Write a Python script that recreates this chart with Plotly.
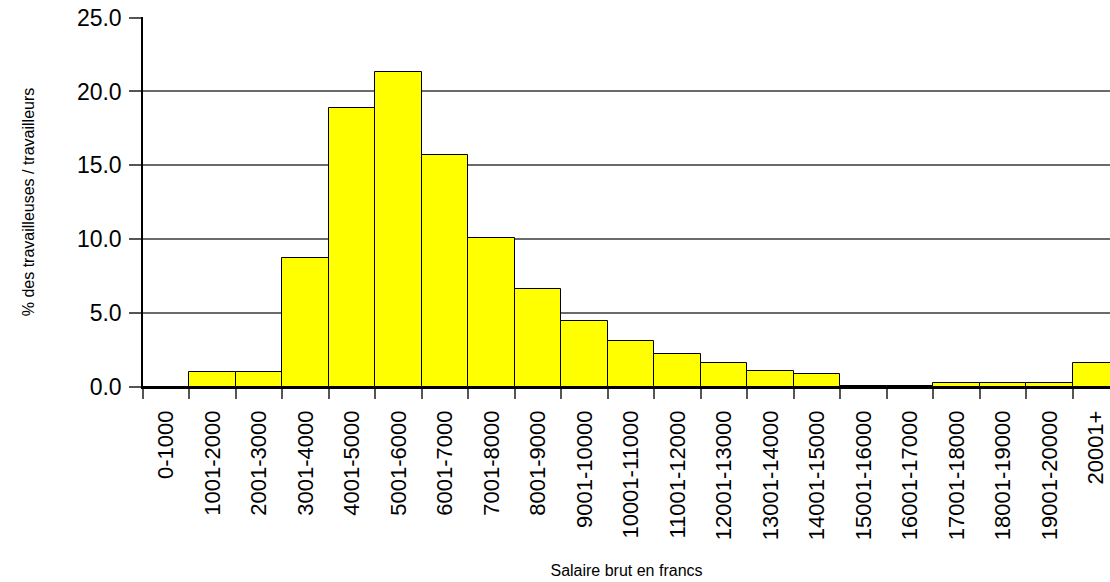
import plotly.graph_objects as go

categories = ["0-1000", "1001-2000", "2001-3000", "3001-4000", "4001-5000",
              "5001-6000", "6001-7000", "7001-8000", "8001-9000", "9001-10000",
              "10001-11000", "11001-12000", "12001-13000", "13001-14000",
              "14001-15000", "15001-16000", "16001-17000", "17001-18000",
              "18001-19000", "19001-20000", "20001+"]
values = [0.0, 1.0, 1.0, 8.7, 18.9, 21.3, 15.7, 10.1, 6.6, 4.5,
          3.1, 2.2, 1.6, 1.1, 0.9, 0.05, 0.05, 0.3, 0.25, 0.25, 1.6]
y_ticks = [0, 5, 10, 15, 20, 25]
y_ticktext = ["0.0", "5.0", "10.0", "15.0", "20.0", "25.0"]

x_title = "Salaire brut en francs"
y_title = "% des travailleuses / travailleurs"

FONT = "Liberation Sans, Arial, sans-serif"

fig = go.Figure()
fig.add_trace(go.Bar(
    x=categories, y=values,
    marker=dict(color="#ffff00", line=dict(color="#000000", width=1)),
    width=1.0,
))

fig.update_layout(
    width=1110, height=582,
    margin=dict(l=143, r=0, t=17, b=195, autoexpand=False),
    paper_bgcolor="white", plot_bgcolor="white",
    bargap=0, showlegend=False,
    font=dict(family=FONT, color="black"),
)

fig.update_xaxes(
    type="category",
    range=[-0.5, 20.3],
    tickangle=-90,
    tickfont=dict(size=22, family=FONT, color="black"),
    ticks="outside", ticklen=10, tickcolor="#555555", tickwidth=1.5,
    tickson="boundaries",
    ticklabelstandoff=13,
    showline=True, linecolor="black", linewidth=1.5,
    showgrid=False, zeroline=False,
    automargin=False,
    title=dict(text=x_title, font=dict(size=16, family=FONT, color="black"), standoff=26),
)

fig.update_yaxes(
    range=[0, 25.04],
    tickvals=y_ticks, ticktext=y_ticktext,
    tickfont=dict(size=23, family=FONT, color="black"),
    ticks="outside", ticklen=12, tickcolor="#555555", tickwidth=1.5,
    ticklabelstandoff=3,
    ticklabeloverflow="allow",
    showline=True, linecolor="black", linewidth=1.5,
    showgrid=True, gridcolor="#6a6a6a", gridwidth=1.5,
    zeroline=False,
    automargin=False,
    title=dict(text=y_title, font=dict(size=16, family=FONT, color="black"), standoff=38),
)

fig.write_html(
    "out.html",
    config={"displayModeBar": False},
    post_script="document.body.style.margin='0';document.body.style.overflow='hidden';",
)
